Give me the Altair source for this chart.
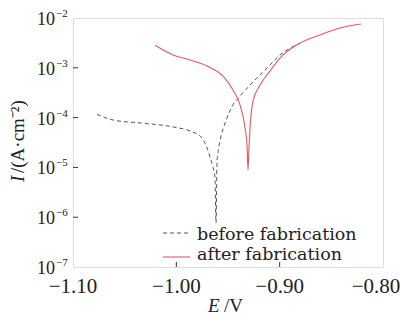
import altair as alt
import pandas as pd

# ---- data ----
before_E = [-1.0768, -1.0613, -1.0352, -1.0032, -0.9839, -0.9761, -0.9713, -0.9665, -0.9645,
            -0.9626, -0.9616, -0.9606, -0.9597, -0.9577, -0.9510, -0.9452, -0.9384, -0.9287,
            -0.9123, -0.8997, -0.8803]
before_I = [1.16e-4, 8.95e-5, 7.8e-5, 6.5e-5, 5.1e-5, 4.1e-5, 2.8e-5, 1.4e-5, 1.0e-5,
            6.4e-6, 7.7e-7, 1.35e-5, 2.0e-5, 3.4e-5, 9.8e-5, 1.8e-4, 2.7e-4, 4.5e-4,
            9.9e-4, 1.8e-3, 3.1e-3]
after_E = [-1.0206, -1.0032, -0.9868, -0.9703, -0.9548, -0.9452, -0.9384, -0.9335, -0.9316,
           -0.9306, -0.9297, -0.9287, -0.9258, -0.9190, -0.9094, -0.8997, -0.8803, -0.8610,
           -0.8416, -0.8213]
after_I = [2.83e-3, 1.81e-3, 1.44e-3, 1.09e-3, 6.8e-4, 3.6e-4, 1.8e-4, 6.2e-5, 2.8e-5,
           8.9e-6, 2.5e-5, 6.2e-5, 2.15e-4, 4.5e-4, 8.6e-4, 1.57e-3, 3.15e-3, 4.56e-3,
           6.3e-3, 7.6e-3]
series_names = ["before fabrication", "after fabrication"]

x_ticks = [-1.10, -1.00, -0.90]
x_tick_labels = ["\u22121.10", "\u22121.00", "\u22120.90"]
x_last_tick = [-0.80]
x_last_label = ["\u22120.80"]
x_inner_ticks = [-1.00, -0.90]
y_ticks = [1e-2, 1e-3, 1e-4, 1e-5, 1e-6, 1e-7]
y_exponents = ["\u22122", "\u22123", "\u22124", "\u22125", "\u22126", "\u22127"]
y_inner_ticks = [1e-3, 1e-4, 1e-5, 1e-6]

W, H = 310, 249
FONT = "Liberation Serif"
LFONT = "DejaVu Serif"
RED = "#e05a66"
GRAY = "#555555"
TXT = "#222222"

xs = alt.Scale(domain=[-1.10, -0.80], nice=False, zero=False)
ys = alt.Scale(type="log", domain=[1e-7, 1e-2], nice=False)

df_b = pd.DataFrame({"E": before_E, "I": before_I, "i": range(len(before_E))})
df_a = pd.DataFrame({"E": after_E, "I": after_I, "i": range(len(after_E))})

noax = dict(axis=None)

line_b = alt.Chart(df_b).mark_line(color=GRAY, strokeWidth=1, strokeDash=[4, 3],
                                   interpolate="monotone").encode(
    x=alt.X("E:Q", scale=xs, **noax), y=alt.Y("I:Q", scale=ys, **noax), order="i:Q")
line_a = alt.Chart(df_a).mark_line(color=RED, strokeWidth=1.1, interpolate="monotone").encode(
    x=alt.X("E:Q", scale=xs, **noax), y=alt.Y("I:Q", scale=ys, **noax), order="i:Q")

# inward ticks
ytk = alt.Chart(pd.DataFrame({"v": y_inner_ticks})).mark_rule(color="#333", strokeWidth=1).encode(
    y=alt.Y("v:Q", scale=ys, **noax), x=alt.value(0), x2=alt.value(5))
xtk = alt.Chart(pd.DataFrame({"v": x_inner_ticks})).mark_rule(color="#333", strokeWidth=1).encode(
    x=alt.X("v:Q", scale=xs, **noax), y=alt.value(H), y2=alt.value(H - 5))

# tick labels
xlab = alt.Chart(pd.DataFrame({"v": x_ticks, "t": x_tick_labels})).mark_text(
    font=FONT, fontSize=21, color=TXT, baseline="alphabetic", align="center").encode(
    x=alt.X("v:Q", scale=xs, **noax), y=alt.value(H + 26), text="t:N")
xlab_last = alt.Chart(pd.DataFrame({"v": x_last_tick, "t": x_last_label})).mark_text(
    font=FONT, fontSize=21, color=TXT, baseline="alphabetic", align="center", dx=-7).encode(
    x=alt.X("v:Q", scale=xs, **noax), y=alt.value(H + 26), text="t:N")
ydf = pd.DataFrame({"v": y_ticks, "e": y_exponents, "b": ["10"] * len(y_ticks)})
ylab10 = alt.Chart(ydf).mark_text(
    font=FONT, fontSize=18, color=TXT, baseline="middle", align="right", dy=2).encode(
    y=alt.Y("v:Q", scale=ys, **noax), x=alt.value(-18), text="b:N")
ylabexp = alt.Chart(ydf).mark_text(
    font=FONT, fontSize=11, color=TXT, baseline="middle", align="left", dy=-4).encode(
    y=alt.Y("v:Q", scale=ys, **noax), x=alt.value(-17), text="e:N")

# axis titles
xt1 = alt.Chart(pd.DataFrame({"t": ["E"]})).mark_text(
    font=FONT, fontSize=19, fontStyle="italic", color=TXT, align="left", baseline="alphabetic").encode(
    x=alt.value(135), y=alt.value(294), text="t:N")
xt2 = alt.Chart(pd.DataFrame({"t": ["/V"]})).mark_text(
    font=FONT, fontSize=19, color=TXT, align="left", baseline="alphabetic").encode(
    x=alt.value(151), y=alt.value(294), text="t:N")
yt1 = alt.Chart(pd.DataFrame({"t": ["I"]})).mark_text(
    font=FONT, fontSize=19, fontStyle="italic", color=TXT, align="left", baseline="alphabetic", angle=270).encode(
    x=alt.value(-49), y=alt.value(164), text="t:N")
yt2 = alt.Chart(pd.DataFrame({"t": ["/(A\u00b7cm\u207b\u00b2)"]})).mark_text(
    font=FONT, fontSize=19, color=TXT, align="left", baseline="alphabetic", angle=270).encode(
    x=alt.value(-49), y=alt.value(155), text="t:N")

# legend
lg1 = alt.Chart(pd.DataFrame({"a": [0]})).mark_rule(color=GRAY, strokeWidth=1, strokeDash=[4, 3]).encode(
    x=alt.value(90), x2=alt.value(117), y=alt.value(215))
lg2 = alt.Chart(pd.DataFrame({"a": [0]})).mark_rule(color=RED, strokeWidth=1.1).encode(
    x=alt.value(90), x2=alt.value(117), y=alt.value(239))
lt1 = alt.Chart(pd.DataFrame({"t": [series_names[0]]})).mark_text(
    font=LFONT, fontSize=17.5, color=TXT, align="left", baseline="alphabetic").encode(
    x=alt.value(124), y=alt.value(222), text="t:N")
lt2 = alt.Chart(pd.DataFrame({"t": [series_names[1]]})).mark_text(
    font=LFONT, fontSize=17.5, color=TXT, align="left", baseline="alphabetic").encode(
    x=alt.value(124), y=alt.value(242), text="t:N")

chart = alt.layer(
    line_b, line_a, ytk, xtk, xlab, xlab_last, ylab10, ylabexp, xt1, xt2, yt1, yt2, lg1, lg2, lt1, lt2
).properties(
    width=W, height=H,
    autosize=alt.AutoSizeParams(type="none"),
    padding={"left": 65, "top": 10, "right": 17, "bottom": 49},
).configure_view(stroke="#333", strokeWidth=1.5).configure(background="white")

chart.save("out.html", embed_options={"renderer": "svg", "actions": False})
